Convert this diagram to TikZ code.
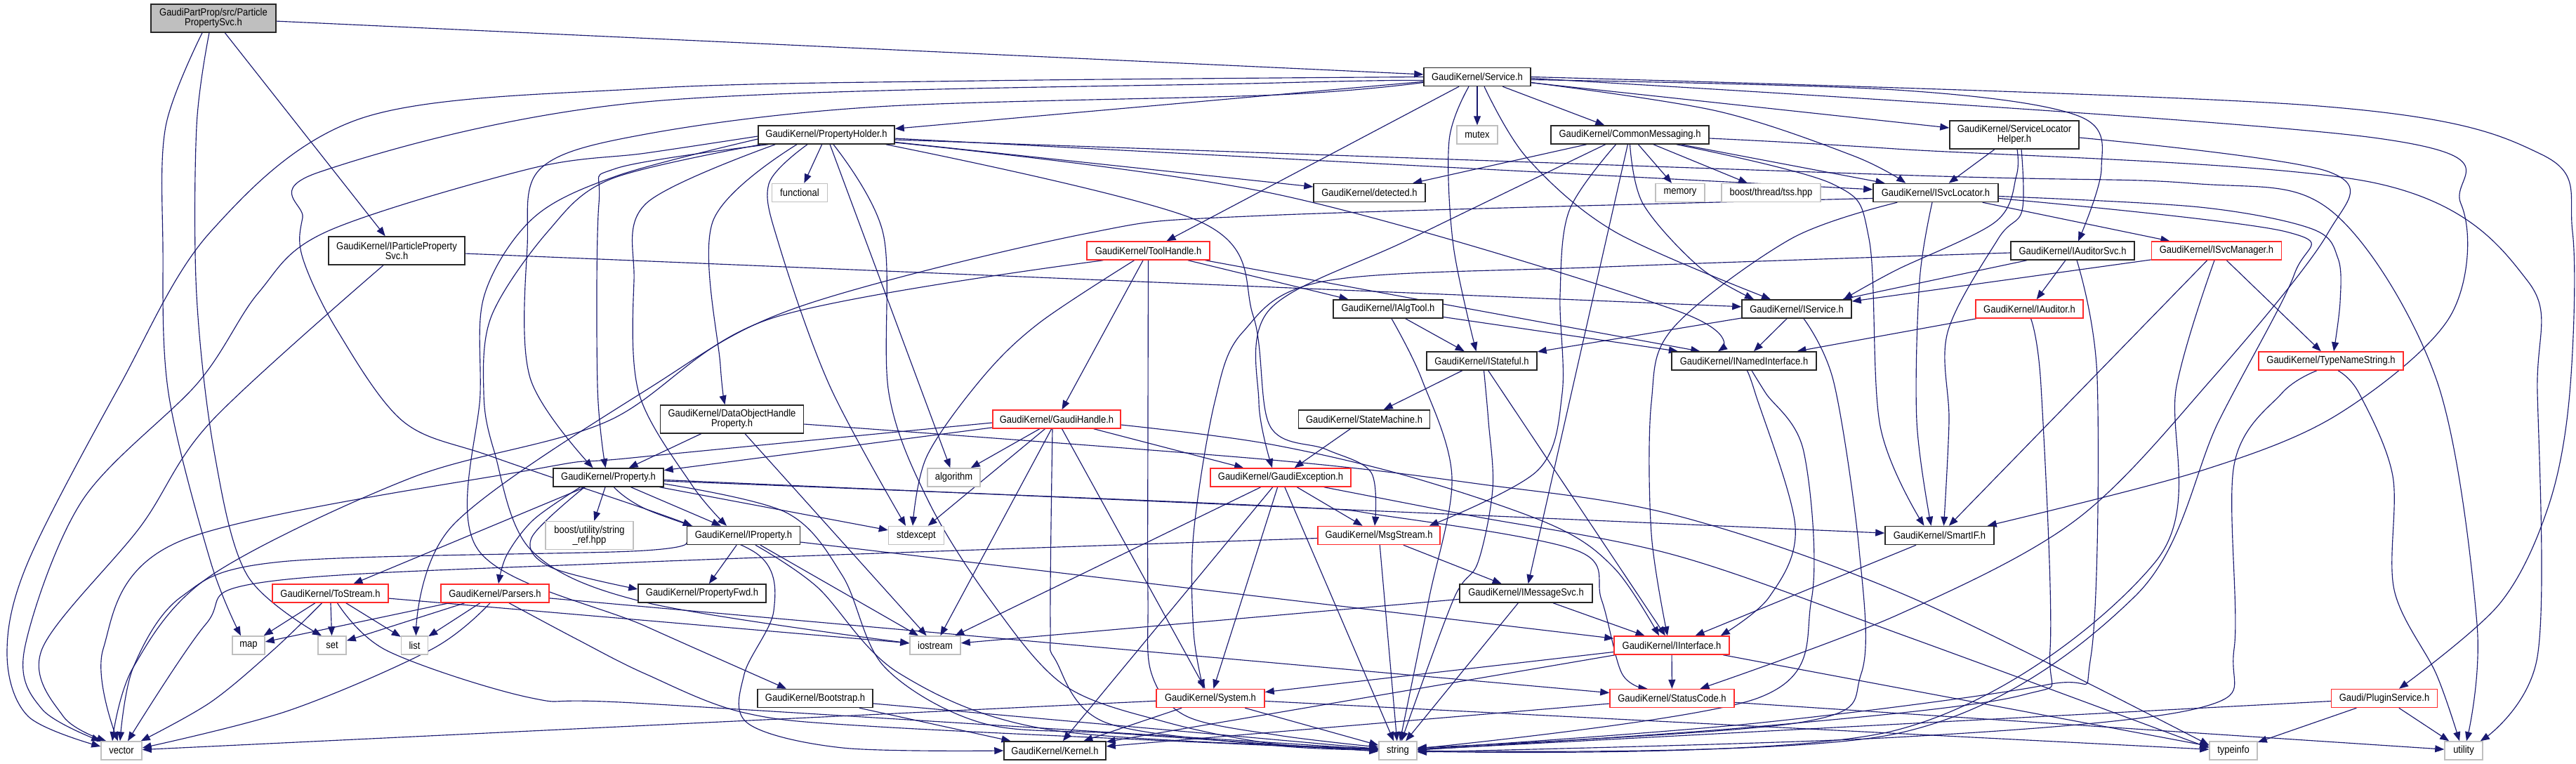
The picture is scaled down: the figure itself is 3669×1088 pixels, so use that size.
\documentclass[tikz,border=0pt]{standalone}
\usepackage{fontspec}
\newfontfamily\dxfont{Liberation Sans}[FakeStretch=0.89]
\usetikzlibrary{arrows.meta,calc}
\pgfdeclarelayer{bg}
\pgfsetlayers{bg,main}
\definecolor{edgeblue}{HTML}{191970}
\definecolor{grey75}{HTML}{BFBFBF}
\definecolor{dxred}{HTML}{FF2A2A}
\tikzset{
  box/.style={rectangle, inner sep=0pt, line width=0.85pt, fill=white, align=center,
    font=\dxfont\fontsize{8.3}{8.2}\selectfont, text=black},
  blk/.style={box, draw=black!85},
  rootbox/.style={box, draw=black!85, fill=grey75},
  redbox/.style={box, draw=dxred},
  ext/.style={box, draw=grey75},
  e/.style={draw=edgeblue, line width=0.65pt, -{Triangle[length=0.26cm,width=0.2cm]}},
  cv/.style={e, smooth, tension=0.55}
}
\newcommand\bx[7]{\node[#6, minimum width=#4*0.02cm, minimum height=#5*0.02cm] (#1) at (#2,#3) {#7};}
\begin{document}
\begin{tikzpicture}[x=0.02cm,y=-0.02cm]
\path[use as bounding box] (0,0) rectangle (3669,1088);
\begin{pgfonlayer}{bg}
\fill[white] (0,0) rectangle (3669,1088);
\end{pgfonlayer}
% ---------------- nodes ----------------
\bx{root}{304}{26}{178}{40}{rootbox}{GaudiPartProp/src/Particle\\PropertySvc.h}
\bx{service}{2104}{109.5}{152}{26}{blk}{GaudiKernel/Service.h}
\bx{propholder}{1177}{192}{194}{26}{blk}{GaudiKernel/PropertyHolder.h}
\bx{functional}{1139}{274.5}{79}{26}{ext}{functional}
\bx{mutex}{2104}{192}{58}{26}{ext}{mutex}
\bx{commonmsg}{2321.5}{192}{225}{26}{blk}{GaudiKernel/CommonMessaging.h}
\bx{slhelper}{2869}{192}{184}{40}{blk}{GaudiKernel/ServiceLocator\\Helper.h}
\bx{detected}{1950.5}{274.5}{159}{26}{blk}{GaudiKernel/detected.h}
\bx{memory}{2393}{274.5}{70}{26}{ext}{memory}
\bx{tss}{2522.5}{274.5}{141}{26}{ext}{boost/thread/tss.hpp}
\bx{isvclocator}{2757}{274.5}{178}{26}{blk}{GaudiKernel/ISvcLocator.h}
\bx{toolhandle}{1635.5}{357}{175}{26}{redbox}{GaudiKernel/ToolHandle.h}
\bx{ipps}{565}{357}{194}{40}{blk}{GaudiKernel/IParticleProperty\\Svc.h}
\bx{iauditorsvc}{2952}{357}{176}{26}{blk}{GaudiKernel/IAuditorSvc.h}
\bx{isvcmanager}{3157}{357}{185}{26}{redbox}{GaudiKernel/ISvcManager.h}
\bx{ialgtool}{1977}{440}{156}{26}{blk}{GaudiKernel/IAlgTool.h}
\bx{iservice}{2559}{440}{156}{26}{blk}{GaudiKernel/IService.h}
\bx{iauditor}{2890.5}{440}{153}{26}{redbox}{GaudiKernel/IAuditor.h}
\bx{istateful}{2110.5}{514}{157}{26}{blk}{GaudiKernel/IStateful.h}
\bx{inamed}{2484}{514}{206}{26}{blk}{GaudiKernel/INamedInterface.h}
\bx{typename}{3320}{514}{206}{26}{redbox}{GaudiKernel/TypeNameString.h}
\bx{statemachine}{1943}{597}{187}{26}{blk}{GaudiKernel/StateMachine.h}
\bx{dohp}{1042.5}{597}{204}{40}{blk}{GaudiKernel/DataObjectHandle\\Property.h}
\bx{gaudihandle}{1505}{597}{182}{26}{redbox}{GaudiKernel/GaudiHandle.h}
\bx{property}{866.5}{680}{157}{26}{blk}{GaudiKernel/Property.h}
\bx{algorithm}{1358.5}{680}{75}{26}{ext}{algorithm}
\bx{gaudiexc}{1824}{680}{200}{26}{redbox}{GaudiKernel/GaudiException.h}
\bx{stringref}{839.5}{762.5}{125}{40}{ext}{boost/utility/string\\\_ref.hpp}
\bx{stdexcept}{1305}{762.5}{79}{26}{ext}{stdexcept}
\bx{iproperty}{1059}{762.5}{161}{26}{blk}{GaudiKernel/IProperty.h}
\bx{smartif}{2762.5}{762.5}{155}{26}{blk}{GaudiKernel/SmartIF.h}
\bx{msgstream}{1964}{762.5}{174}{26}{redbox}{GaudiKernel/MsgStream.h}
\bx{tostream}{470.5}{845}{165}{26}{redbox}{GaudiKernel/ToStream.h}
\bx{parsers}{705}{845}{154}{26}{redbox}{GaudiKernel/Parsers.h}
\bx{propfwd}{1000}{845}{182}{26}{blk}{GaudiKernel/PropertyFwd.h}
\bx{messagesvc}{2173.5}{845}{189}{26}{blk}{GaudiKernel/IMessageSvc.h}
\bx{map}{354}{919}{46}{26}{ext}{map}
\bx{set}{473}{919}{40}{26}{ext}{set}
\bx{list}{590.5}{919}{38}{26}{ext}{list}
\bx{iostream}{1332}{919}{72}{26}{ext}{iostream}
\bx{iinterface}{2381}{919}{164}{26}{redbox}{GaudiKernel/IInterface.h}
\bx{bootstrap}{1161}{994.5}{164}{26}{blk}{GaudiKernel/Bootstrap.h}
\bx{system}{1724}{994.5}{154}{26}{redbox}{GaudiKernel/System.h}
\bx{statuscode}{2381.5}{994.5}{177}{26}{redbox}{GaudiKernel/StatusCode.h}
\bx{pluginsvc}{3396}{994.5}{151}{26}{redbox}{Gaudi/PluginService.h}
\bx{vector}{173}{1069}{58}{26}{ext}{vector}
\bx{kernel}{1502.5}{1069}{145}{26}{blk}{GaudiKernel/Kernel.h}
\bx{string}{1991}{1069}{54}{26}{ext}{string}
\bx{typeinfo}{3181}{1069}{68}{26}{ext}{typeinfo}
\bx{utility}{3509}{1069}{54}{26}{ext}{utility}
% ---------------- edges ----------------
\begin{pgfonlayer}{bg}
% straight connectors
\foreach \a/\b in {root/service, root/ipps,
  service/propholder, service/mutex, service/commonmsg, service/slhelper, service/toolhandle,
  propholder/functional, propholder/algorithm, propholder/detected, propholder/isvclocator,
  commonmsg/detected, commonmsg/memory, commonmsg/tss, commonmsg/isvclocator, commonmsg/messagesvc,
  slhelper/isvclocator, isvclocator/isvcmanager,
  toolhandle/gaudihandle, toolhandle/ialgtool, ipps/iservice,
  iauditorsvc/iservice, iauditorsvc/iauditor,
  isvcmanager/iservice, isvcmanager/smartif, isvcmanager/typename,
  iauditor/inamed, ialgtool/istateful, ialgtool/inamed,
  iservice/istateful, iservice/inamed,
  istateful/statemachine, istateful/iinterface, statemachine/gaudiexc,
  dohp/property, dohp/iostream,
  gaudihandle/property, gaudihandle/algorithm, gaudihandle/stdexcept, gaudihandle/iostream,
  gaudihandle/system, gaudihandle/gaudiexc,
  gaudiexc/iostream, gaudiexc/kernel, gaudiexc/system, gaudiexc/string, gaudiexc/msgstream,
  property/tostream, property/stringref, property/iproperty, property/stdexcept, property/smartif,
  iproperty/propfwd, iproperty/iostream, iproperty/iinterface, smartif/iinterface,
  msgstream/messagesvc, msgstream/string,
  tostream/map, tostream/set, tostream/list, tostream/iostream,
  parsers/map, parsers/set, parsers/list, parsers/statuscode,
  messagesvc/iostream, messagesvc/string, messagesvc/iinterface,
  iinterface/system, iinterface/kernel, iinterface/statuscode, iinterface/typeinfo,
  bootstrap/kernel, bootstrap/string,
  system/kernel, system/string, system/vector, system/typeinfo,
  statuscode/kernel, statuscode/utility,
  pluginsvc/string, pluginsvc/typeinfo, pluginsvc/utility}
  {\draw[e] (\a) -- (\b);}
\draw[e] ($(toolhandle.south east)+(-7,0)$) -- ($(inamed.north west)+(41,0)$);
% curved connectors
\draw[cv] plot coordinates {($(root.south)+(-16,0)$) (236,180) (232,350) (240,560) (300,800) ($(map.north)+(-11,0)$)};
\draw[cv] plot coordinates {($(root.south)+(-6,0)$) (280,180) (280,420) (305,643) (352,819) ($(set.north)+(-15,0)$)};
\draw[cv] plot coordinates {($(service.east)+(0,4)$) (2700,128) (2960,165) (2993,240) ($(iauditorsvc.north)+(8,0)$)};
\draw[cv] plot coordinates {($(service.south)+(-12,0)$) (2064,200) (2070,350) ($(istateful.north)+(-8,0)$)};
\draw[cv] plot coordinates {($(service.south)+(10,0)$) (2175,225) (2300,330) ($(iservice.north)+(-37,0)$)};
\draw[cv] plot coordinates {($(service.east)+(0,8)$) (2445,158) (2640,222) ($(isvclocator.north west)+(47,0)$)};
\draw[cv] plot coordinates {($(service.east)+(0,2)$) (3380,196) (3505,290) (3490,450) (3330,590) (3133,671) ($(smartif.north east)+(-10,0)$)};
\draw[cv] plot coordinates {(service.east) (3290,150) (3620,220) (3664,330) (3660,560) (3630,720) (3560,860) ($(pluginsvc.north)+(21,0)$)};
\draw[cv] plot coordinates {($(service.west)+(0,8)$) (1820,135) (1250,152) (920,191) (770,240) (751,351) (755,538) ($(property.north)+(-22,0)$)};
\draw[cv] plot coordinates {($(service.west)+(0,5)$) (1820,118) (920,145) (455,245) (431,310) (431,367) (480,470) (574,600) (700,650) (920,725) ($(iproperty.north west)+(8,0)$)};
\draw[cv] plot coordinates {(service.west) (1400,115) (920,126) (516,168) (300,330) (170,550) (40,800) (10,930) (40,1020) ($(vector.west)+(0,-6)$)};
\draw[cv] plot coordinates {($(propholder.south)+(-42,0)$) (1015,316) (1026,520) ($(dohp.north)+(-10,0)$)};
\draw[cv] plot coordinates {($(propholder.south west)+(15,0)$) (877,240) (853,290) (851,550) ($(property.north)+(-4,0)$)};
\draw[cv] plot coordinates {($(propholder.south west)+(25,0)$) (920,290) (903,400) (910,560) (985,690) ($(iproperty.north)+(-24,0)$)};
\draw[cv] plot coordinates {($(propholder.west)+(0,6)$) (880,250) (760,310) (690,420) (684,560) (681,783) (920,892) ($(bootstrap.north)+(-41,0)$)};
\draw[cv] plot coordinates {($(propholder.south west)+(5,0)$) (870,255) (780,330) (700,450) (689,560) (704,643) (757,784) (920,858) ($(iostream.west)+(0,-3)$)};
\draw[cv] plot coordinates {($(propholder.south)+(-27,0)$) (1095,262) (1110,350) (1182,550) ($(stdexcept.north)+(-15,0)$)};
\draw[cv] plot coordinates {($(propholder.south)+(10,0)$) (1258,333) (1266,560) (1322,713) (1410,854) (1516,976) (1663,1029) (1820,1060) ($(string.west)+(0,-3)$)};
\draw[cv] plot coordinates {($(propholder.west)+(0,2)$) (920,218) (756,240) (465,330) (368,417) (282,545) (117,713) (35,924) (60,1010) (vector.north west)};
\draw[cv] plot coordinates {($(propholder.east)+(0,11)$) (1820,277) (2387,442) ($(inamed.north)+(-37,0)$)};
\draw[cv] plot coordinates {($(propholder.east)+(0,7)$) (2700,249) (3120,261) (3320,300) (3470,540) (3528,889) ($(utility.north)+(4,0)$)};
\draw[cv] plot coordinates {($(propholder.south east)+(-13,0)$) (1710,316) (1785,450) (1809,607) (1889,640) (1953,673) ($(msgstream.north)+(-6,0)$)};
\draw[cv] plot coordinates {(commonmsg.south) (2340,290) (2420,380) ($(iservice.north)+(-61,0)$)};
\draw[cv] plot coordinates {($(commonmsg.south)+(-35,0)$) (2009,340) (1809,440) (1793,573) ($(gaudiexc.north)+(-12,0)$)};
\draw[cv] plot coordinates {($(commonmsg.south)+(-20,0)$) (2235,300) (2222,420) (2225,560) (2190,670) ($(msgstream.north east)+(-16,0)$)};
\draw[cv] plot coordinates {($(commonmsg.south east)+(-47,0)$) (2610,262) (2662,340) (2678,607) ($(smartif.north)+(-22,0)$)};
\draw[cv] plot coordinates {($(commonmsg.east)+(0,5)$) (2700,212) (3380,260) (3600,400) (3614,560) (3614,935) ($(utility.north east)+(-4,0)$)};
\draw[cv] plot coordinates {($(slhelper.south)+(4,0)$) (2872,250) (2842,316) (2700,385) ($(iservice.north east)+(-12,0)$)};
\draw[cv] plot coordinates {($(slhelper.south)+(10,0)$) (2880,300) (2846,340) (2774,473) (2776,600) ($(smartif.north)+(6,0)$)};
\draw[cv] plot coordinates {($(slhelper.east)+(0,4)$) (3318,245) (3315,333) (3150,540) (2956,741) (2702,876) ($(statuscode.north)+(40,0)$)};
\draw[cv] plot coordinates {($(isvclocator.west)+(0,8)$) (1800,307) (1545,333) (1135,438) (929,550) (645,748) ($(list.north)+(2,0)$)};
\draw[cv] plot coordinates {($(isvclocator.east)+(0,5)$) (3133,295) (3293,326) (3330,368) (3333,430) ($(typename.north)+(4,0)$)};
\draw[cv] plot coordinates {($(isvclocator.south)+(-5,0)$) (2734,400) (2730,600) ($(smartif.north)+(-12,0)$)};
\draw[cv] plot coordinates {($(isvclocator.east)+(0,8)$) (3256,330) (3268,390) (3160,600) (3040,850) (2700,1045) (string.east)};
\draw[cv] plot coordinates {($(isvclocator.south west)+(35,0)$) (2551,340) (2383,467) (2352,573) (2352,760) ($(iinterface.north)+(-6,0)$)};
\draw[cv] plot coordinates {(toolhandle.south) (1635,600) (1635,850) (1640,959) (1690,1020) (1820,1047) ($(string.west)+(0,-5)$)};
\draw[cv] plot coordinates {($(toolhandle.south)+(-20,0)$) (1480,460) (1399,538) (1320,650) ($(stdexcept.north)+(-5,0)$)};
\draw[cv] plot coordinates {($(toolhandle.south west)+(24,0)$) (1100,453) (865,600) (587,680) (300,820) (190,950) ($(vector.north)+(-13,0)$)};
\draw[cv] plot coordinates {($(ipps.south)+(-19,0)$) (301,600) (200,750) (60,924) (90,1020) ($(vector.north west)+(8,0)$)};
\draw[cv] plot coordinates {($(iauditorsvc.west)+(0,3)$) (2288,380) (1889,400) (1770,473) (1730,573) (1700,760) (1700,900) ($(system.north)+(-10,0)$)};
\draw[cv] plot coordinates {($(iauditorsvc.south)+(6,0)$) (2987,538) (2978,935) (2916,975) (2500,1030) ($(string.east)+(0,-2)$)};
\draw[cv] plot coordinates {($(isvcmanager.south)+(-3,0)$) (3100,550) (3070,800) (2700,1040) ($(string.east)+(0,1)$)};
\draw[cv] plot coordinates {($(iauditor.south)+(2,0)$) (2907,550) (2920,924) (2880,990) (2500,1035) ($(string.east)+(0,-1)$)};
\draw[cv] plot coordinates {($(ialgtool.south)+(5,0)$) (2025,540) (2068,680) (2035,854) ($(string.north)+(3,0)$)};
\draw[cv] plot coordinates {($(iservice.south)+(10,0)$) (2612,545) (2648,783) (2651,959) (2563,1029) ($(string.east)+(0,-4)$)};
\draw[cv] plot coordinates {($(istateful.south)+(3,0)$) (2120,600) (2126,696) (2105,801) (2070,854) ($(string.north)+(5,0)$)};
\draw[cv] plot coordinates {($(inamed.south)+(4,0)$) (2500,560) (2557,750) (2520,850) ($(iinterface.north east)+(-13,0)$)};
\draw[cv] plot coordinates {($(inamed.south)+(11,0)$) (2515,560) (2569,643) (2580,854) (2504,994) ($(string.east)+(0,-3)$)};
\draw[cv] plot coordinates {($(typename.south)+(-20,0)$) (3250,560) (3182,662) (3182,924) (3133,1008) (2700,1050) ($(string.east)+(0,2)$)};
\draw[cv] plot coordinates {($(typename.south)+(10,0)$) (3360,560) (3408,678) (3410,840) (3470,960) ($(utility.north)+(-6,0)$)};
\draw[cv] plot coordinates {($(dohp.east)+(0,7)$) (1800,654) (2105,689) (2387,734) (2720,850) ($(typeinfo.west)+(0,-8)$)};
\draw[cv] plot coordinates {($(gaudihandle.west)+(0,5)$) (900,652) (763,668) (258,770) (147,924) ($(vector.north)+(-5,0)$)};
\draw[cv] plot coordinates {($(gaudihandle.south)+(-6,0)$) (1496,889) (1504,941) (1575,1029) (1820,1062) ($(string.west)+(0,-1)$)};
\draw[cv] plot coordinates {($(gaudihandle.east)+(0,8)$) (1800,631) (2005,678) (2211,748) (2300,810) ($(iinterface.north)+(-18,0)$)};
\draw[cv] plot coordinates {($(gaudiexc.south east)+(-39,0)$) (2093,734) (2387,791) (2720,908) ($(typeinfo.west)+(0,-4)$)};
\draw[cv] plot coordinates {($(property.east)+(0,5)$) (1800,720) (1976,735) (2246,784) (2281,854) (2310,959) ($(statuscode.north)+(-35,0)$)};
\draw[cv] plot coordinates {($(property.south)+(-34,0)$) (757,766) (785,808) ($(propfwd.west)+(0,-6)$)};
\draw[cv] plot coordinates {($(property.south)+(-40,0)$) (760,740) (722,790) ($(parsers.north)+(5,0)$)};
\draw[cv] plot coordinates {($(property.east)+(0,9)$) (1120,730) (1200,820) (1260,950) (1400,1030) (1600,1045) ($(string.west)+(0,1)$)};
\draw[cv] plot coordinates {($(property.south)+(8,0)$) (920,725) (1080,790) (1102,870) (1060,960) (1065,1030) (1200,1065) (kernel.west)};
\draw[cv] plot coordinates {($(iproperty.south)+(17,0)$) (1164,836) (1281,959) (1500,1040) ($(string.west)+(0,-3)$)};
\draw[cv] plot coordinates {($(iproperty.west)+(0,10)$) (900,785) (400,800) (258,850) (190,950) ($(vector.north)+(-2,0)$)};
\draw[cv] plot coordinates {($(tostream.south)+(-12,0)$) (390,925) (300,1000) ($(vector.north east)+(-2,0)$)};
\draw[cv] plot coordinates {($(tostream.south)+(10,0)$) (552,927) (757,994) (920,1002) (1820,1058) (string.west)};
\draw[cv] plot coordinates {($(parsers.south)+(-7,0)$) (616,924) (411,1012) ($(vector.east)+(0,-4)$)};
\draw[cv] plot coordinates {($(parsers.south)+(20,0)$) (821,910) (920,960) (1060,1015) (1252,1035) (1820,1062) ($(string.west)+(0,-2)$)};
\draw[cv] plot coordinates {($(msgstream.west)+(0,4)$) (900,801) (376,829) (293,889) ($(vector.north)+(9,0)$)};
\end{pgfonlayer}
\end{tikzpicture}
\end{document}
